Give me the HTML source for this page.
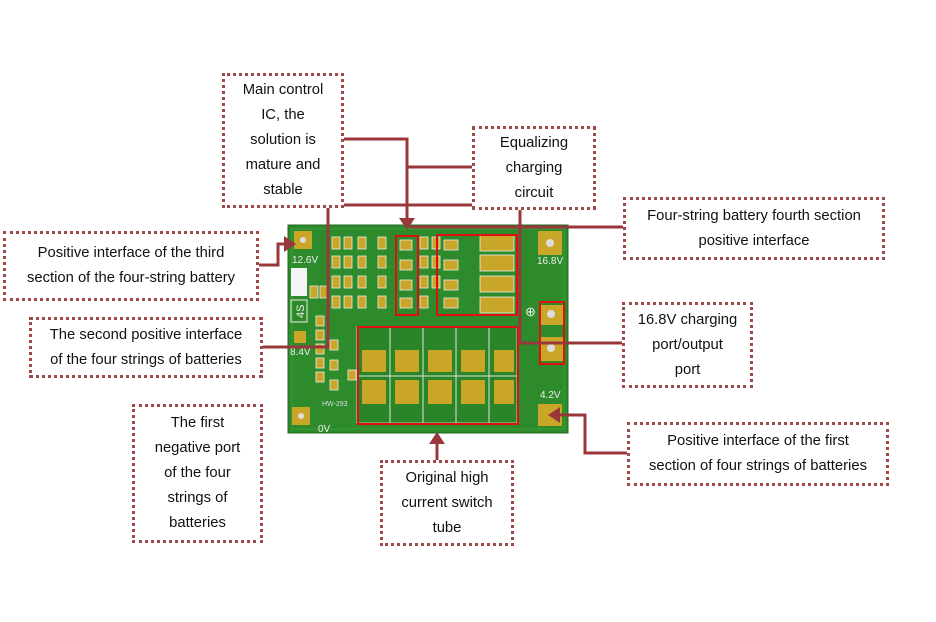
<!DOCTYPE html>
<html><head><meta charset="utf-8"><style>
body{margin:0;background:#fff;width:936px;height:622px;overflow:hidden;font-family:"Liberation Sans",sans-serif}
.b{position:absolute;border:3px dotted #a04a48;box-sizing:border-box;display:flex;align-items:center;justify-content:center;text-align:center;font-size:14.8px;line-height:25px;color:#111;background:#fff;white-space:nowrap}
svg{position:absolute;left:0;top:0}
</style></head><body>
<svg width="936" height="622">
<rect x="288" y="225" width="280" height="208" fill="#2e8b2c" stroke="#1f6a1f"/>
<rect x="292" y="229" width="272" height="200" fill="none" stroke="#3c9c38" stroke-width="1"/>
<rect x="294" y="231" width="18" height="18" fill="#c9a628"/><circle cx="303" cy="240" r="3" fill="#ddd"/>
<text x="292" y="263" font-size="10" fill="#eee" font-family="Liberation Sans">12.6V</text>
<rect x="291" y="268" width="16" height="28" fill="#f4f4f4"/>
<rect x="291" y="300" width="16" height="22" fill="none" stroke="#eee"/><text x="0" y="0" font-size="11" fill="#eee" transform="translate(304,318) rotate(-90)">4S</text>
<rect x="294" y="331" width="12" height="12" fill="#c9a628"/>
<text x="290" y="355" font-size="10" fill="#eee">8.4V</text>
<rect x="292" y="407" width="18" height="18" fill="#c9a628"/><circle cx="301" cy="416" r="3" fill="#ddd"/>
<text x="318" y="432" font-size="10" fill="#eee">0V</text>
<text x="322" y="406" font-size="7" fill="#ddd">HW-293</text>
<g fill="#c9a628" stroke="#eee" stroke-width="0.8">
<rect x="332" y="237" width="8" height="12"/><rect x="344" y="237" width="8" height="12"/><rect x="358" y="237" width="8" height="12"/><rect x="378" y="237" width="8" height="12"/><rect x="420" y="237" width="8" height="12"/><rect x="432" y="237" width="8" height="12"/>
<rect x="332" y="256" width="8" height="12"/><rect x="344" y="256" width="8" height="12"/><rect x="358" y="256" width="8" height="12"/><rect x="378" y="256" width="8" height="12"/><rect x="420" y="256" width="8" height="12"/><rect x="432" y="256" width="8" height="12"/>
<rect x="332" y="276" width="8" height="12"/><rect x="344" y="276" width="8" height="12"/><rect x="358" y="276" width="8" height="12"/><rect x="378" y="276" width="8" height="12"/><rect x="420" y="276" width="8" height="12"/><rect x="432" y="276" width="8" height="12"/>
<rect x="332" y="296" width="8" height="12"/><rect x="344" y="296" width="8" height="12"/><rect x="358" y="296" width="8" height="12"/><rect x="378" y="296" width="8" height="12"/><rect x="420" y="296" width="8" height="12"/>
<rect x="310" y="286" width="8" height="12"/><rect x="320" y="286" width="8" height="12"/>
<rect x="316" y="316" width="8" height="10"/><rect x="316" y="330" width="8" height="10"/><rect x="316" y="344" width="8" height="10"/><rect x="316" y="358" width="8" height="10"/><rect x="316" y="372" width="8" height="10"/>
<rect x="330" y="340" width="8" height="10"/><rect x="330" y="360" width="8" height="10"/><rect x="330" y="380" width="8" height="10"/><rect x="348" y="370" width="8" height="10"/>
<rect x="400" y="240" width="12" height="10"/><rect x="400" y="260" width="12" height="10"/><rect x="400" y="280" width="12" height="10"/><rect x="400" y="298" width="12" height="10"/>
<rect x="444" y="240" width="14" height="10"/><rect x="444" y="260" width="14" height="10"/><rect x="444" y="280" width="14" height="10"/><rect x="444" y="298" width="14" height="10"/>
<rect x="480" y="235" width="34" height="16"/><rect x="480" y="255" width="34" height="16"/><rect x="480" y="276" width="34" height="16"/><rect x="480" y="297" width="34" height="16"/>
</g>
<rect x="357" y="327" width="160" height="96" fill="#2a8428" stroke="#d8e8d0" stroke-width="0.8"/>
<g stroke="#d8e8d0" stroke-width="1"><line x1="390" y1="327" x2="390" y2="423"/><line x1="423" y1="327" x2="423" y2="423"/><line x1="456" y1="327" x2="456" y2="423"/><line x1="489" y1="327" x2="489" y2="423"/><line x1="357" y1="376" x2="517" y2="376"/></g>
<g fill="#c9a628">
<rect x="362" y="350" width="24" height="22"/><rect x="395" y="350" width="24" height="22"/><rect x="428" y="350" width="24" height="22"/><rect x="461" y="350" width="24" height="22"/><rect x="494" y="350" width="20" height="22"/>
<rect x="362" y="380" width="24" height="24"/><rect x="395" y="380" width="24" height="24"/><rect x="428" y="380" width="24" height="24"/><rect x="461" y="380" width="24" height="24"/><rect x="494" y="380" width="20" height="24"/>
</g>
<rect x="538" y="231" width="24" height="24" fill="#c9a628"/><circle cx="550" cy="243" r="4" fill="#ddd"/>
<text x="537" y="264" font-size="10" fill="#eee">16.8V</text>
<rect x="541" y="305" width="22" height="20" fill="#c9a628"/><circle cx="551" cy="314" r="4" fill="#ddd"/>
<rect x="541" y="337" width="22" height="24" fill="#c9a628"/><circle cx="551" cy="348" r="4" fill="#ddd"/>
<rect x="540" y="302" width="24" height="62" fill="none" stroke="#e01010" stroke-width="2"/>
<text x="525" y="316" font-size="13" fill="#eee">⊕</text>
<text x="540" y="398" font-size="10" fill="#eee">4.2V</text>
<rect x="538" y="404" width="24" height="22" fill="#c9a628"/>
<g fill="none" stroke="#e01010" stroke-width="2">
<rect x="396" y="236" width="22" height="79"/><rect x="437" y="235" width="80" height="80"/><rect x="358" y="327" width="160" height="97"/>
</g>
<g stroke="#98383a" stroke-width="3" fill="none">
<polyline points="343,139 407,139 407,222"/>
<polyline points="407,167 472,167"/>
<polyline points="472,205 328,205 328,347 262,347"/>
<polyline points="520,209 520,343 622,343"/>
<polyline points="410,227 623,227"/>
<polyline points="258,265 278,265 278,244 290,244"/>
<polyline points="627,453 585,453 585,415 556,415"/>
<polyline points="437,460 437,440"/>
</g>
<g fill="#98383a">
<polygon points="399,218 415,218 407,230"/>
<polygon points="296,244 284,236 284,252"/>
<polygon points="548,415 560,407 560,423"/>
<polygon points="437,432 429,444 445,444"/>
</g>
</svg>
<div class="b" style="left:222px;top:73px;width:122px;height:135px">Main control<br>IC, the<br>solution is<br>mature and<br>stable</div>
<div class="b" style="left:472px;top:126px;width:124px;height:84px">Equalizing<br>charging<br>circuit</div>
<div class="b" style="left:623px;top:197px;width:262px;height:63px">Four-string battery fourth section<br>positive interface</div>
<div class="b" style="left:3px;top:231px;width:256px;height:70px">Positive interface of the third<br>section of the four-string battery</div>
<div class="b" style="left:29px;top:317px;width:234px;height:61px">The second positive interface<br>of the four strings of batteries</div>
<div class="b" style="left:132px;top:404px;width:131px;height:139px">The first<br>negative port<br>of the four<br>strings of<br>batteries</div>
<div class="b" style="left:622px;top:302px;width:131px;height:86px">16.8V charging<br>port/output<br>port</div>
<div class="b" style="left:380px;top:460px;width:134px;height:86px">Original high<br>current switch<br>tube</div>
<div class="b" style="left:627px;top:422px;width:262px;height:64px">Positive interface of the first<br>section of four strings of batteries</div>
</body></html>
